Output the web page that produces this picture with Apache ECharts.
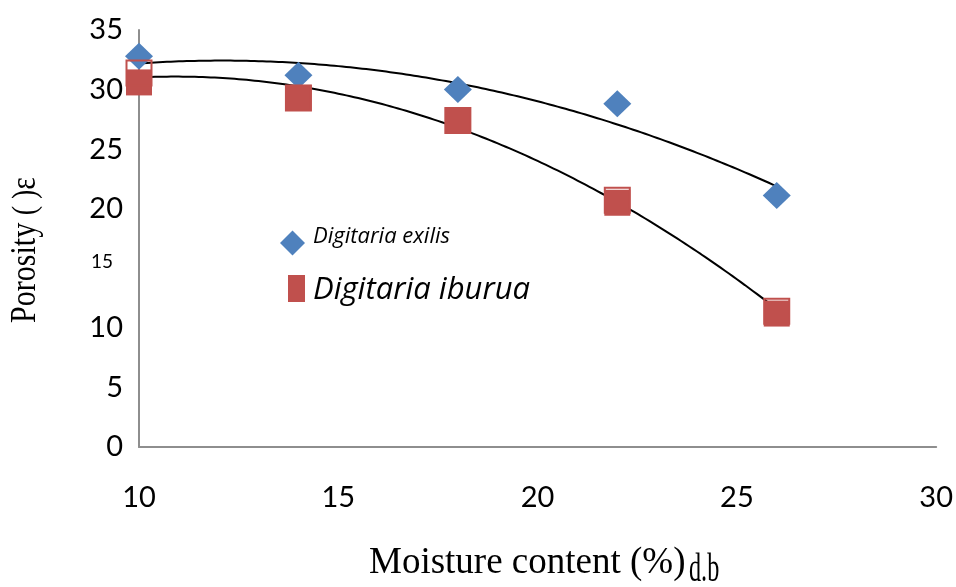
<!DOCTYPE html>
<html>
<head>
<meta charset="utf-8">
<script src="https://cdn.jsdelivr.net/npm/echarts@6/dist/echarts.min.js"></script>
<style>
  html, body { margin: 0; padding: 0; background: #fff; }
  #chart { width: 956px; height: 587px; }
</style>
</head>
<body>
<div id="chart"></div>
<script>
// Moisture content (% d.b.) of each sample
const moisture = [10, 14, 18, 22, 26];
// Porosity of Digitaria exilis
const exilis = [32.8, 31.2, 30.0, 28.8, 21.1];
// Porosity of Digitaria iburua (outlined marks) and its filled marks
const iburua = [31.4, 29.3, 27.4, 20.7, 11.4];
const iburuaFill = [30.6, 29.3, 27.4, 20.5, 11.2];
// Axis ticks
const xTicks = [10, 15, 20, 25, 30];
const yTicks = [0, 5, 10, 15, 20, 25, 30, 35];

const pairs = (xs, ys) => xs.map((x, i) => [x, ys[i]]);

// Second-order least-squares trendline through the measured points
function quadTrend(xs, ys, step) {
  const n = xs.length;
  let s1 = 0, s2 = 0, s3 = 0, s4 = 0, t0 = 0, t1 = 0, t2 = 0;
  for (let i = 0; i < n; i++) {
    const x = xs[i], y = ys[i];
    s1 += x; s2 += x * x; s3 += x * x * x; s4 += x * x * x * x;
    t0 += y; t1 += x * y; t2 += x * x * y;
  }
  const M = [[n, s1, s2, t0], [s1, s2, s3, t1], [s2, s3, s4, t2]];
  for (let c = 0; c < 3; c++) {
    for (let r = c + 1; r < 3; r++) {
      const f = M[r][c] / M[c][c];
      for (let k = c; k < 4; k++) M[r][k] -= f * M[c][k];
    }
  }
  const coef = [0, 0, 0];
  for (let r = 2; r >= 0; r--) {
    let s = M[r][3];
    for (let k = r + 1; k < 3; k++) s -= M[r][k] * coef[k];
    coef[r] = s / M[r][r];
  }
  const lo = Math.min(...xs), hi = Math.max(...xs);
  const out = [];
  for (let x = lo; x <= hi + 1e-9; x += step) {
    out.push([x, coef[0] + coef[1] * x + coef[2] * x * x]);
  }
  return out;
}

const BLUE = '#4f81bd';
const RED = '#c0504d';
const AXIS = '#8e8e8e';
const SERIF = 'Liberation Serif';

const chart = echarts.init(document.getElementById('chart'), null, { renderer: 'canvas' });

chart.setOption({
  animation: false,
  backgroundColor: '#fff',
  grid: { left: 139, right: 16, top: 30, bottom: 140, containLabel: false },
  xAxis: {
    type: 'value',
    min: xTicks[0],
    max: xTicks[xTicks.length - 1],
    interval: xTicks[1] - xTicks[0],
    axisLine: { show: true, lineStyle: { color: AXIS, width: 2 } },
    axisTick: { show: false },
    splitLine: { show: false },
    axisLabel: {
      color: '#000', fontFamily: 'Lato', fontSize: 29, lineHeight: 29, margin: 36
    }
  },
  yAxis: {
    type: 'value',
    min: yTicks[0],
    max: yTicks[yTicks.length - 1],
    interval: yTicks[1] - yTicks[0],
    axisLine: { show: true, lineStyle: { color: AXIS, width: 2 } },
    axisTick: { show: false },
    splitLine: { show: false },
    axisLabel: {
      margin: 16,
      formatter: v => (v === 15 ? '{s|' + v + '}' : '{n|' + v + '}'),
      rich: {
        n: { color: '#000', fontFamily: 'Lato', fontSize: 29, lineHeight: 29 },
        s: { color: '#000', fontFamily: 'Lato', fontSize: 19, lineHeight: 19, padding: [0, 10, 12, 0] }
      }
    }
  },
  legend: [
    {
      data: ['Digitaria exilis'],
      left: 280, top: 226, padding: 0,
      icon: 'diamond', itemWidth: 25, itemHeight: 25,
      selectedMode: false,
      formatter: '{t|{name}}',
      textStyle: {
        rich: {
          t: { color: '#000', fontFamily: 'Open Sans', fontStyle: 'italic', fontSize: 22, lineHeight: 22, padding: [0, 0, 12, 3] }
        }
      }
    },
    {
      data: ['Digitaria iburua'],
      left: 288, top: 271, padding: 0,
      icon: 'rect', itemWidth: 17, itemHeight: 27,
      selectedMode: false,
      formatter: '{t|{name}}',
      textStyle: {
        rich: {
          t: { color: '#000', fontFamily: 'Open Sans', fontStyle: 'italic', fontSize: 31, lineHeight: 31, padding: [4, 0, 0, 3] }
        }
      }
    }
  ],
  graphic: [
    {
      type: 'text', x: 369, y: 563, silent: true,
      style: { text: 'Moisture content (%)', fontFamily: SERIF, fontSize: 37, fill: '#000', align: 'left', verticalAlign: 'middle' }
    },
    {
      type: 'text', x: 689, y: 571, scaleX: 0.62, silent: true,
      style: { text: 'd.b', fontFamily: SERIF, fontSize: 39, fill: '#000', align: 'left', verticalAlign: 'middle' }
    },
    {
      type: 'text', x: 26, y: 250, rotation: Math.PI / 2, scaleY: 1.2, silent: true,
      style: {
        text: '{a|Porosity }{b|( )}{c|ε}',
        align: 'center', verticalAlign: 'middle',
        rich: {
          a: { fontFamily: SERIF, fontSize: 30, fill: '#000' },
          b: { fontFamily: SERIF, fontSize: 28, fill: '#000' },
          c: { fontFamily: SERIF, fontSize: 30, fill: '#000' }
        }
      }
    }
  ],
  series: [
    {
      name: 'exilis trend', type: 'line', silent: true, z: 1,
      data: quadTrend(moisture, exilis, 0.1),
      showSymbol: false, smooth: false,
      lineStyle: { color: '#000', width: 2 }
    },
    {
      name: 'iburua trend', type: 'line', silent: true, z: 1,
      data: quadTrend(moisture, iburua, 0.1),
      showSymbol: false, smooth: false,
      lineStyle: { color: '#000', width: 2 }
    },
    {
      name: 'Digitaria exilis', type: 'scatter', z: 3,
      data: pairs(moisture, exilis),
      symbol: 'diamond', symbolSize: [28, 27],
      itemStyle: { color: BLUE, opacity: 1 },
      emphasis: { disabled: true }
    },
    {
      name: 'Digitaria iburua', type: 'scatter', z: 3,
      data: pairs(moisture, iburuaFill),
      symbol: 'rect', symbolSize: 26,
      itemStyle: { color: RED, opacity: 1 },
      emphasis: { disabled: true }
    },
    {
      name: 'iburua outline', type: 'scatter', z: 4,
      data: pairs(moisture, iburua),
      symbol: 'rect', symbolSize: 25,
      itemStyle: { color: 'rgba(255,255,255,0)', borderColor: RED, borderWidth: 2, opacity: 1 },
      emphasis: { disabled: true }
    }
  ]
});
</script>
</body>
</html>
